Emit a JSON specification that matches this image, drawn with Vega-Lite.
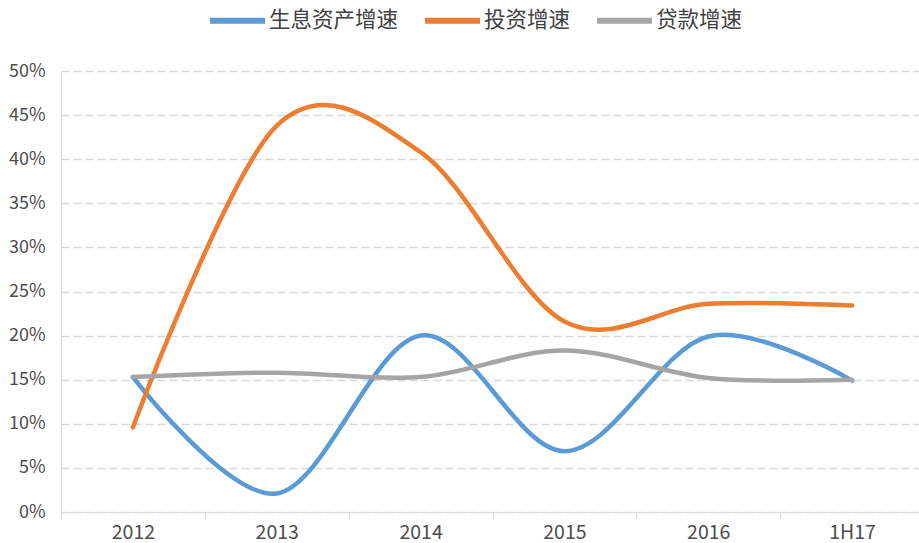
{
  "$schema": "https://vega.github.io/schema/vega-lite/v6.json",
  "autosize": {"type": "none"},
  "padding": {"left": 61, "top": 71, "right": 0, "bottom": 31},
  "width": 863,
  "height": 441,
  "background": "white",
  "config": {
    "font": "Noto Sans CJK SC",
    "view": {"stroke": null}
  },
  "data": {
    "values": [
      {"period": "2012", "series": "生息资产增速", "value": 0.153},
      {"period": "2013", "series": "生息资产增速", "value": 0.021},
      {"period": "2014", "series": "生息资产增速", "value": 0.200},
      {"period": "2015", "series": "生息资产增速", "value": 0.069},
      {"period": "2016", "series": "生息资产增速", "value": 0.199},
      {"period": "1H17", "series": "生息资产增速", "value": 0.149},
      {"period": "2012", "series": "投资增速", "value": 0.096},
      {"period": "2013", "series": "投资增速", "value": 0.438},
      {"period": "2014", "series": "投资增速", "value": 0.408},
      {"period": "2015", "series": "投资增速", "value": 0.216},
      {"period": "2016", "series": "投资增速", "value": 0.236},
      {"period": "1H17", "series": "投资增速", "value": 0.234},
      {"period": "2012", "series": "贷款增速", "value": 0.153},
      {"period": "2013", "series": "贷款增速", "value": 0.158},
      {"period": "2014", "series": "贷款增速", "value": 0.153},
      {"period": "2015", "series": "贷款增速", "value": 0.183},
      {"period": "2016", "series": "贷款增速", "value": 0.152},
      {"period": "1H17", "series": "贷款增速", "value": 0.150}
    ]
  },
  "mark": {"type": "line", "interpolate": "cardinal", "tension": 0, "strokeWidth": 4.5, "strokeCap": "round", "strokeJoin": "round"},
  "encoding": {
    "x": {
      "field": "period",
      "type": "ordinal",
      "sort": ["2012", "2013", "2014", "2015", "2016", "1H17"],
      "bandPosition": 0.5,
      "scale": {"type": "band", "paddingInner": 0, "paddingOuter": 0},
      "axis": {
        "title": null,
        "labelAngle": 0,
        "tickBand": "extent",
        "grid": false,
        "domainColor": "#d9d9d9",
        "domainWidth": 1,
        "tickColor": "#d9d9d9",
        "tickSize": 6,
        "labelFontSize": 19.5,
        "labelColor": "#4d4d4d",
        "labelPadding": 5
      }
    },
    "y": {
      "field": "value",
      "type": "quantitative",
      "scale": {"domain": [0, 0.5], "nice": false},
      "axis": {
        "title": null,
        "values": [0, 0.05, 0.1, 0.15, 0.2, 0.25, 0.3, 0.35, 0.4, 0.45, 0.5],
        "format": ".0%",
        "grid": true,
        "gridColor": "#d9d9d9",
        "gridDash": [8, 4],
        "gridWidth": 1.3,
        "domain": true,
        "domainColor": "#d9d9d9",
        "ticks": false,
        "labelFontSize": 18,
        "labelColor": "#4d4d4d",
        "labelPadding": 16
      }
    },
    "color": {
      "field": "series",
      "type": "nominal",
      "sort": ["生息资产增速", "投资增速", "贷款增速"],
      "scale": {
        "domain": ["生息资产增速", "投资增速", "贷款增速"],
        "range": ["#5b9bd5", "#ed7d31", "#a5a5a5"]
      },
      "legend": {
        "title": null,
        "orient": "none",
        "direction": "horizontal",
        "legendX": 146,
        "legendY": -81,
        "symbolType": "stroke",
        "symbolSize": 3025,
        "symbolStrokeWidth": 6,
        "labelFontSize": 21.5,
        "labelColor": "#404040",
        "labelOffset": 1,
        "columnPadding": 14
      }
    }
  }
}
